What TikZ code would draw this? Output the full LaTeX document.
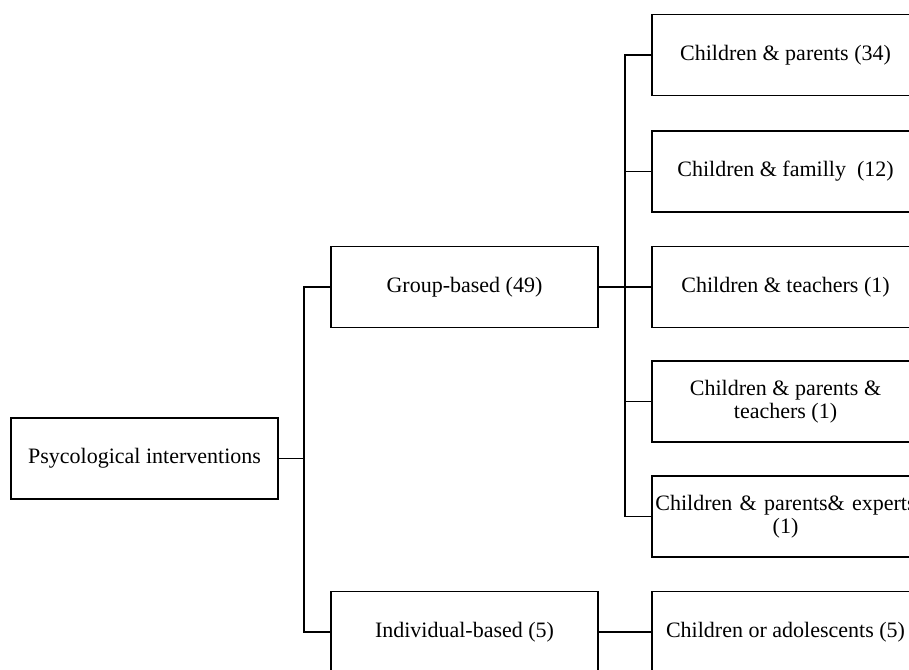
\documentclass[tikz,border=0pt]{standalone}
\usepackage{fontspec}
\setmainfont{Liberation Serif}
\begin{document}
\begin{tikzpicture}[x=0.75pt,y=-0.75pt,
  box/.style={draw=black, line width=1pt, fill=white, minimum width=267*0.75pt, minimum height=81*0.75pt, align=center, inner sep=2pt, font=\fontsize{16.5}{17.5}\selectfont},
  link/.style={draw=black, line width=1pt}]
\useasboundingbox (0,0) rectangle (909,669);
\clip (0,0) rectangle (909,669);
\fill[white] (0,0) rectangle (909,669);
\node[box] (root) at (144.5,458.5) {Psycological interventions};
\node[box] (group) at (464.5,287) {Group-based (49)};
\node[box] (indiv) at (464.5,632) {Individual-based (5)};
\node[box] (c1) at (785.5,55) {Children \& parents (34)};
\node[box] (c2) at (785.5,171.5) {Children \& familly~ (12)};
\node[box] (c3) at (785.5,287) {Children \& teachers (1)};
\node[box] (c4) at (785.5,401.5) {Children \& parents \&\\teachers (1)};
\node[box, minimum width=267*0.75pt, text width=0pt] (c5) at (785.5,516.5) {\makebox[0pt]{Children \& parents\& experts}\\\makebox[0pt]{(1)}};
\node[box] (c6) at (785.5,632) {Children or adolescents (5)};
\coordinate (j1) at (304,458.5);
\coordinate (j2) at (625,287);
\draw[link] (root.east) -- (j1);
\draw[link] (j1) |- (group.west);
\draw[link] (j1) |- (indiv.west);
\draw[link] (group.east) -- (c3.west);
\draw[link] (j2) |- (c1.west);
\draw[link] (j2) |- (c2.west);
\draw[link] (j2) |- (c4.west);
\draw[link] (j2) |- (c5.west);
\draw[link] (indiv.east) -- (c6.west);
\end{tikzpicture}
\end{document}
